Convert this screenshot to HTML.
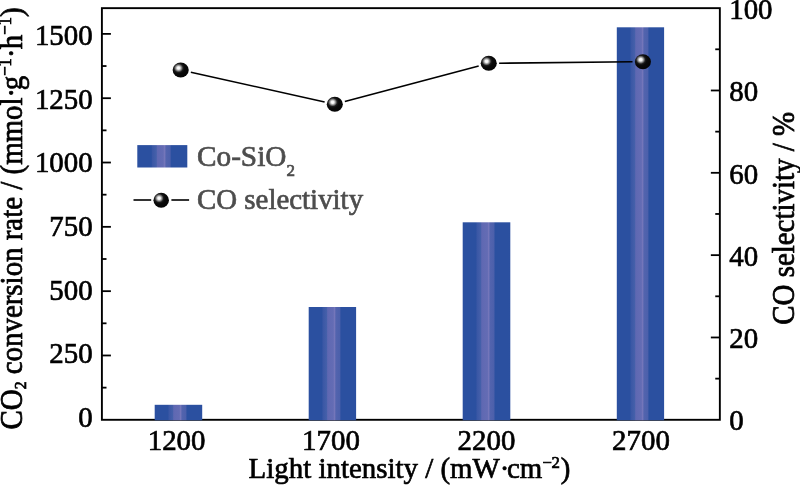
<!DOCTYPE html>
<html lang="en"><head><meta charset="utf-8"><title>CO2 conversion rate vs light intensity</title>
<style>html,body{margin:0;padding:0;background:#fff;}body{width:800px;height:485px;overflow:hidden;}svg{display:block;}text{font-family:"Liberation Serif", "Times New Roman", serif;font-size:30.2px;fill:#000;stroke:#000;stroke-width:0.7px;}</style></head><body>
<svg width="800" height="485" viewBox="0 0 800 485">
<defs>
<linearGradient id="bg" x1="0" y1="0" x2="1" y2="0"><stop offset="0" stop-color="#294d9e"/><stop offset="0.02" stop-color="#2b50a0"/><stop offset="0.28" stop-color="#2b50a0"/><stop offset="0.30" stop-color="#3a57a5"/><stop offset="0.38" stop-color="#4560aa"/><stop offset="0.40" stop-color="#5f68b2"/><stop offset="0.52" stop-color="#646cb4"/><stop offset="0.535" stop-color="#7476ba"/><stop offset="0.555" stop-color="#7476ba"/><stop offset="0.57" stop-color="#5364ae"/><stop offset="0.655" stop-color="#4c60ab"/><stop offset="0.68" stop-color="#2b50a0"/><stop offset="0.98" stop-color="#2b50a0"/><stop offset="1" stop-color="#294d9e"/></linearGradient>
<radialGradient id="ball" cx="0.365" cy="0.365" r="0.62" fx="0.365" fy="0.365"><stop offset="0" stop-color="#ffffff"/><stop offset="0.14" stop-color="#f2f2f2"/><stop offset="0.30" stop-color="#8a8a8a"/><stop offset="0.46" stop-color="#1c1c1c"/><stop offset="0.62" stop-color="#090909"/><stop offset="1" stop-color="#050505"/></radialGradient>
</defs>
<rect x="0" y="0" width="800" height="485" fill="#ffffff"/>
<rect x="101.90" y="8.15" width="617.95" height="411.65" fill="none" stroke="#000" stroke-width="1.90"/>
<line x1="101.90" y1="355.48" x2="110.90" y2="355.48" stroke="#000" stroke-width="1.80"/>
<line x1="101.90" y1="291.16" x2="110.90" y2="291.16" stroke="#000" stroke-width="1.80"/>
<line x1="101.90" y1="226.84" x2="110.90" y2="226.84" stroke="#000" stroke-width="1.80"/>
<line x1="101.90" y1="162.52" x2="110.90" y2="162.52" stroke="#000" stroke-width="1.80"/>
<line x1="101.90" y1="98.20" x2="110.90" y2="98.20" stroke="#000" stroke-width="1.80"/>
<line x1="101.90" y1="33.88" x2="110.90" y2="33.88" stroke="#000" stroke-width="1.80"/>
<line x1="101.90" y1="387.64" x2="106.50" y2="387.64" stroke="#000" stroke-width="1.80"/>
<line x1="101.90" y1="323.32" x2="106.50" y2="323.32" stroke="#000" stroke-width="1.80"/>
<line x1="101.90" y1="259.00" x2="106.50" y2="259.00" stroke="#000" stroke-width="1.80"/>
<line x1="101.90" y1="194.68" x2="106.50" y2="194.68" stroke="#000" stroke-width="1.80"/>
<line x1="101.90" y1="130.36" x2="106.50" y2="130.36" stroke="#000" stroke-width="1.80"/>
<line x1="101.90" y1="66.04" x2="106.50" y2="66.04" stroke="#000" stroke-width="1.80"/>
<line x1="719.85" y1="337.47" x2="710.85" y2="337.47" stroke="#000" stroke-width="1.80"/>
<line x1="719.85" y1="255.14" x2="710.85" y2="255.14" stroke="#000" stroke-width="1.80"/>
<line x1="719.85" y1="172.81" x2="710.85" y2="172.81" stroke="#000" stroke-width="1.80"/>
<line x1="719.85" y1="90.48" x2="710.85" y2="90.48" stroke="#000" stroke-width="1.80"/>
<line x1="719.85" y1="378.63" x2="715.25" y2="378.63" stroke="#000" stroke-width="1.80"/>
<line x1="719.85" y1="296.31" x2="715.25" y2="296.31" stroke="#000" stroke-width="1.80"/>
<line x1="719.85" y1="213.97" x2="715.25" y2="213.97" stroke="#000" stroke-width="1.80"/>
<line x1="719.85" y1="131.64" x2="715.25" y2="131.64" stroke="#000" stroke-width="1.80"/>
<line x1="719.85" y1="49.31" x2="715.25" y2="49.31" stroke="#000" stroke-width="1.80"/>
<rect x="154.70" y="404.80" width="47.50" height="15.50" fill="url(#bg)"/>
<rect x="308.70" y="307.00" width="47.40" height="113.30" fill="url(#bg)"/>
<rect x="462.70" y="222.30" width="47.60" height="198.00" fill="url(#bg)"/>
<rect x="616.80" y="27.30" width="47.30" height="393.00" fill="url(#bg)"/>
<line x1="190.85" y1="72.26" x2="324.65" y2="101.99" stroke="#000" stroke-width="1.6"/>
<line x1="344.85" y1="101.58" x2="478.70" y2="65.97" stroke="#000" stroke-width="1.6"/>
<line x1="499.15" y1="63.19" x2="632.50" y2="61.81" stroke="#000" stroke-width="1.6"/>
<ellipse cx="180.70" cy="70.00" rx="8.05" ry="7.45" fill="url(#ball)"/>
<ellipse cx="334.80" cy="104.25" rx="8.05" ry="7.45" fill="url(#ball)"/>
<ellipse cx="488.75" cy="63.30" rx="8.05" ry="7.45" fill="url(#ball)"/>
<ellipse cx="642.90" cy="61.70" rx="8.05" ry="7.45" fill="url(#ball)"/>
<rect x="137.3" y="145.1" width="50" height="22.4" fill="url(#bg)"/>
<text transform="translate(197.00,166.00) scale(0.9690,1.000)" style="fill:#4d4d4d;stroke:#4d4d4d">Co-SiO<tspan dy="10" style="font-size:17.5px">2</tspan></text>
<line x1="133.5" y1="200" x2="151.2" y2="200" stroke="#000" stroke-width="1.6"/>
<line x1="171.4" y1="200" x2="189.1" y2="200" stroke="#000" stroke-width="1.6"/>
<ellipse cx="161.2" cy="200.2" rx="7.75" ry="7.45" fill="url(#ball)"/>
<text transform="translate(197.00,209.40) scale(0.9570,1.000)" style="fill:#4d4d4d;stroke:#4d4d4d">CO selectivity</text>
<text transform="translate(92.70,427.00) scale(0.9570,1.000)" text-anchor="end">0</text>
<text transform="translate(92.70,363.37) scale(0.9570,1.000)" text-anchor="end">250</text>
<text transform="translate(92.70,299.74) scale(0.9570,1.000)" text-anchor="end">500</text>
<text transform="translate(92.70,236.11) scale(0.9570,1.000)" text-anchor="end">750</text>
<text transform="translate(92.70,172.48) scale(0.9570,1.000)" text-anchor="end">1000</text>
<text transform="translate(92.70,108.85) scale(0.9570,1.000)" text-anchor="end">1250</text>
<text transform="translate(92.70,45.22) scale(0.9570,1.000)" text-anchor="end">1500</text>
<text transform="translate(729.20,429.80) scale(0.9570,1.000)">0</text>
<text transform="translate(729.20,347.70) scale(0.9570,1.000)">20</text>
<text transform="translate(729.20,265.60) scale(0.9570,1.000)">40</text>
<text transform="translate(729.20,183.50) scale(0.9570,1.000)">60</text>
<text transform="translate(729.20,101.40) scale(0.9570,1.000)">80</text>
<text transform="translate(729.20,19.30) scale(0.9570,1.000)">100</text>
<text transform="translate(205.50,450.10) scale(0.9570,1.000)" text-anchor="end">1200</text>
<text transform="translate(359.90,450.10) scale(0.9570,1.000)" text-anchor="end">1700</text>
<text transform="translate(515.40,450.10) scale(0.9570,1.000)" text-anchor="end">2200</text>
<text transform="translate(669.90,450.10) scale(0.9570,1.000)" text-anchor="end">2700</text>
<text transform="translate(248.60,478.00) scale(0.9570,1.000)">Light intensity / (mW·<tspan dx="-2.6">cm</tspan><tspan dy="-10" dx="0.4" style="font-size:17.5px">−</tspan><tspan dx="-0.6" style="font-size:17.5px">2</tspan><tspan dy="10" dx="1">)</tspan></text>
<text transform="translate(21.80,429.50) rotate(-90) scale(0.9570,1.040)">CO<tspan dy="4.2" style="font-size:16.5px">2</tspan><tspan dy="-4.2"> conversion rate / (mmol·</tspan><tspan dx="-2.6">g</tspan><tspan dy="-10" style="font-size:17.5px">−</tspan><tspan dx="-0.4" style="font-size:17.5px">1</tspan><tspan dy="10" dx="0.4">·</tspan><tspan dx="-1.0">h</tspan><tspan dy="-10" dx="0.2" style="font-size:17.5px">−</tspan><tspan dx="-0.2" style="font-size:17.5px">1</tspan><tspan dy="10" dx="0.2">)</tspan></text>
<text transform="translate(793.80,324.70) rotate(-90) scale(0.9570,1.040)">CO selectivity / %</text>
</svg></body></html>
